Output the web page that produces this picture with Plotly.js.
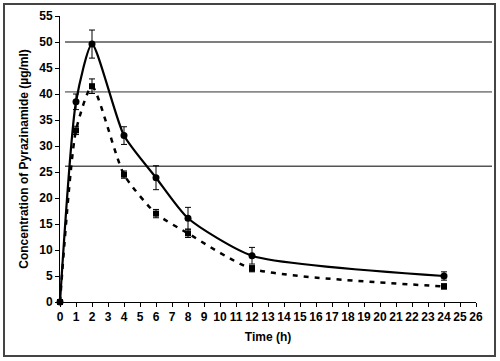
<!DOCTYPE html>
<html>
<head>
<meta charset="utf-8">
<script src="https://cdn.plot.ly/plotly-3.0.1.min.js"></script>
<style>html,body{margin:0;padding:0;background:#fff}#chart{width:500px;height:361px}</style>
</head>
<body>
<div id="chart"></div>
<script>
const timeH = [0, 1, 2, 4, 6, 8, 12, 24];
const solidConc = [0, 38.5, 49.6, 32.0, 23.9, 16.1, 8.9, 5.0];
const solidErr = [0, 1.5, 2.7, 1.7, 2.3, 2.1, 1.6, 0.8];
const dashedConc = [0, 33.0, 41.5, 24.5, 17.0, 13.2, 6.4, 3.0];
const dashedErr = [0, 0.8, 1.4, 0.7, 0.8, 0.8, 0.6, 0.5];
const refLevels = [50, 40.4, 26.1];
const xTicks = Array.from({length: 27}, (_, i) => i);
const yTicks = [0, 5, 10, 15, 20, 25, 30, 35, 40, 45, 50, 55];

const font = {family: '"Liberation Sans", Arial, sans-serif', color: '#000'};

const traces = [
  {
    x: timeH, y: dashedConc, type: 'scatter', mode: 'lines+markers',
    line: {color: '#000', width: 2.5, dash: '5px,6px', shape: 'spline', smoothing: 0.6},
    marker: {symbol: 'square', size: 6, color: '#000'},
    error_y: {type: 'data', array: dashedErr, visible: true, color: '#000', thickness: 1, width: 3},
    cliponaxis: false, showlegend: false
  },
  {
    x: timeH, y: solidConc, type: 'scatter', mode: 'lines+markers',
    line: {color: '#000', width: 2.2, shape: 'spline', smoothing: 0.6},
    marker: {symbol: 'circle', size: 7, color: '#000'},
    error_y: {type: 'data', array: solidErr, visible: true, color: '#000', thickness: 1, width: 3},
    cliponaxis: false, showlegend: false
  }
];

const shapes = refLevels.map((v, i) => ({
  type: 'line', xref: 'paper', yref: 'paper',
  x0: 0.012, x1: 1.0385, y0: v / 55, y1: v / 55,
  line: {color: i === 1 ? '#8a8a8a' : '#555', width: 1.6},
  layer: 'below'
}));
shapes.push({
  type: 'rect', xref: 'paper', yref: 'paper',
  x0: -0.1346, x1: 1.0457, y0: -0.1888, y1: 1.042,
  line: {color: '#444', width: 2}
});

const layout = {
  width: 500, height: 361,
  margin: {l: 60, r: 24, t: 16, b: 59},
  paper_bgcolor: '#fff', plot_bgcolor: '#fff',
  font: font,
  xaxis: {
    range: [0, 26], tickvals: xTicks, ticktext: xTicks.map(String),
    showgrid: false, zeroline: false, showline: true, linecolor: '#000', linewidth: 1,
    ticks: 'outside', ticklen: 4, tickcolor: '#000',
    tickfont: Object.assign({size: 12, weight: 'bold'}, font),
    title: {text: 'Time (h)', font: Object.assign({size: 12, weight: 'bold'}, font), standoff: 9}
  },
  yaxis: {
    range: [0, 55], tickvals: yTicks, ticktext: yTicks.map(String),
    showgrid: false, zeroline: false, showline: true, linecolor: '#000', linewidth: 1,
    ticks: 'outside', ticklen: 4, tickcolor: '#000',
    tickfont: Object.assign({size: 12, weight: 'bold'}, font),
    title: {text: 'Concentration of Pyrazinamide (µg/ml)', font: Object.assign({size: 12, weight: 'bold'}, font), standoff: 8}
  },
  shapes: shapes
};

Plotly.newPlot('chart', traces, layout, {staticPlot: true, displayModeBar: false});
</script>
</body>
</html>
